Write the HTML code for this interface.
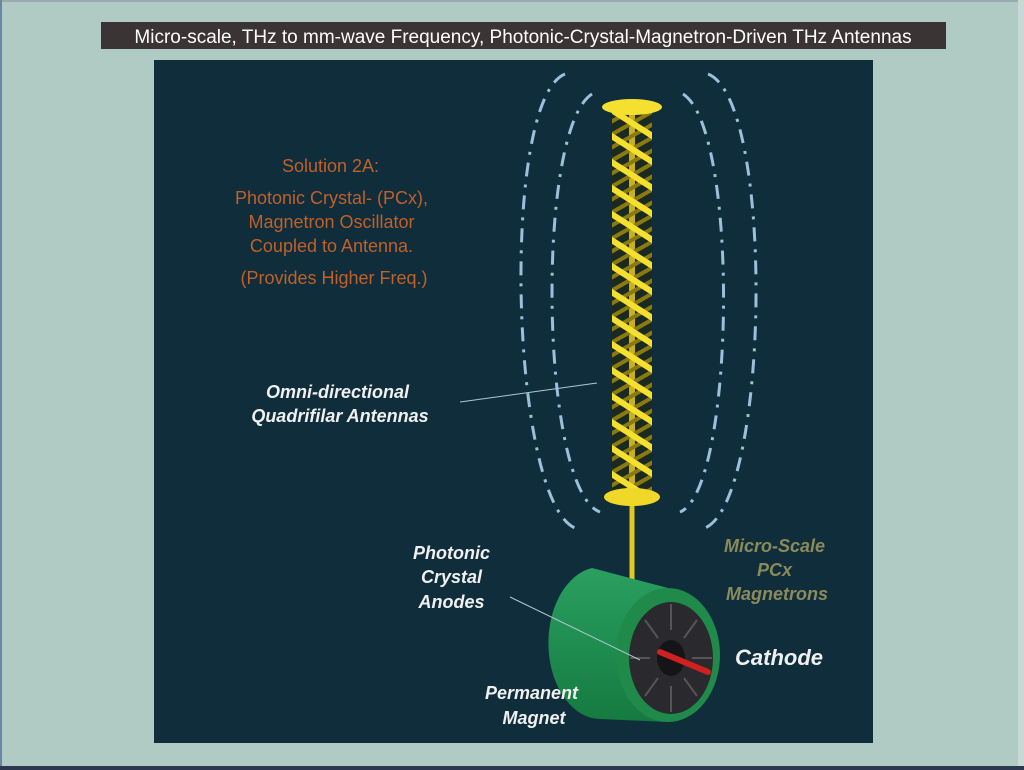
<!DOCTYPE html>
<html><head><meta charset="utf-8"><style>
html,body{margin:0;padding:0;width:1024px;height:770px;overflow:hidden;background:#b0cac4}
svg{display:block}
</style></head><body>
<svg width="1024" height="770" viewBox="0 0 1024 770" xmlns="http://www.w3.org/2000/svg">
<defs>
<pattern id="hel" patternUnits="userSpaceOnUse" width="40" height="26" patternTransform="translate(612,110)">
<line x1="-10" y1="30" x2="50" y2="-4" stroke="#8a7a10" stroke-width="4"/>
<line x1="-10" y1="17" x2="50" y2="-17" stroke="#8a7a10" stroke-width="4"/>
<line x1="-10" y1="43" x2="50" y2="9" stroke="#8a7a10" stroke-width="4"/>
</pattern>
<pattern id="hel2" patternUnits="userSpaceOnUse" width="40" height="26" patternTransform="translate(612,110)">
<line x1="-10" y1="-6" x2="50" y2="32" stroke="#f5e030" stroke-width="6"/>
<line x1="-10" y1="20" x2="50" y2="58" stroke="#f5e030" stroke-width="6"/>
<line x1="-10" y1="-32" x2="50" y2="6" stroke="#f5e030" stroke-width="6"/>
</pattern>
<linearGradient id="gb" x1="0" y1="0" x2="0" y2="1"><stop offset="0" stop-color="#2aa060"/><stop offset="1" stop-color="#157a40"/></linearGradient>
</defs>
<rect x="0" y="0" width="1024" height="2" fill="#9aaab0"/>
<rect x="0" y="0" width="2" height="770" fill="#6b85a8"/>
<rect x="0" y="766" width="1024" height="4" fill="#2c3850"/>
<rect x="1018" y="0" width="6" height="766" fill="#c8d8d4"/>
<rect x="101" y="22" width="845" height="27" fill="#3a3434"/>
<text x="523" y="43" text-anchor="middle" font-family="Liberation Sans, sans-serif" font-size="19" fill="#ffffff">Micro-scale, THz to mm-wave Frequency, Photonic-Crystal-Magnetron-Driven THz Antennas</text>
<rect x="154" y="60" width="719" height="683" fill="#0f2d3a"/>
<g fill="none" stroke="#9cc0dc" stroke-width="3" stroke-dasharray="14,8,3,8">
<path d="M565,74 C500,100 510,500 575,528"/>
<path d="M592,94 C535,130 540,490 600,512"/>
<path d="M708,74 C775,100 770,500 705,528"/>
<path d="M683,94 C740,130 735,490 680,512"/>
</g>
<line x1="632" y1="500" x2="632" y2="583" stroke="#e0c820" stroke-width="5"/>
<rect x="612" y="112" width="40" height="385" fill="#1a2a20"/>
<rect x="629" y="112" width="6" height="385" fill="#c8b020"/>
<rect x="612" y="112" width="40" height="385" fill="url(#hel)"/>
<rect x="612" y="112" width="40" height="385" fill="url(#hel2)"/>
<ellipse cx="632" cy="107" rx="30" ry="8" fill="#f5e030"/>
<ellipse cx="632" cy="497" rx="28" ry="9" fill="#f0d828"/>
<text font-family="Liberation Sans, sans-serif" font-size="18" fill="#c0602a" text-anchor="middle">
<tspan x="333" y="172">Solution 2A:</tspan>
<tspan x="334" y="204">Photonic Crystal- (PCx),</tspan>
<tspan x="334" y="228">Magnetron Oscillator</tspan>
<tspan x="334" y="252">Coupled to Antenna.</tspan>
<tspan x="334" y="284">(Provides Higher Freq.)</tspan>
</text>
<text font-family="Liberation Sans, sans-serif" font-size="18" font-weight="bold" font-style="italic" fill="#f0f0f0" text-anchor="middle">
<tspan x="340" y="398">Omni-directional</tspan>
<tspan x="340" y="422">Quadrifilar Antennas</tspan>
</text>
<line x1="460" y1="402" x2="597" y2="383" stroke="#b0c8d8" stroke-width="1"/>
<path d="M592,568 L668,588 L668,722 L600,719 A52,76 0 0 1 592,568 Z" fill="url(#gb)"/>
<ellipse cx="668" cy="655" rx="52" ry="67" fill="#1f8a4a"/>
<ellipse cx="671" cy="658" rx="42" ry="56" fill="#2a2a2e"/>
<g stroke="#555" stroke-width="2">
<line x1="671" y1="604" x2="671" y2="630"/><line x1="671" y1="686" x2="671" y2="712"/>
<line x1="630" y1="658" x2="650" y2="658"/><line x1="692" y1="658" x2="712" y2="658"/>
<line x1="645" y1="620" x2="658" y2="638"/><line x1="697" y1="620" x2="684" y2="638"/>
<line x1="645" y1="696" x2="658" y2="678"/><line x1="697" y1="696" x2="684" y2="678"/>
</g>
<ellipse cx="671" cy="658" rx="14" ry="18" fill="#151518"/>
<line x1="660" y1="652" x2="708" y2="672" stroke="#d02020" stroke-width="6" stroke-linecap="round"/>
<text font-family="Liberation Sans, sans-serif" font-size="18" font-weight="bold" font-style="italic" fill="#f0f0f0" text-anchor="middle">
<tspan x="454" y="559">Photonic</tspan>
<tspan x="454" y="583">Crystal</tspan>
<tspan x="454" y="608">Anodes</tspan>
<tspan x="534" y="699">Permanent</tspan>
<tspan x="534" y="724">Magnet</tspan>
</text>
<line x1="510" y1="597" x2="640" y2="660" stroke="#b0c8d8" stroke-width="1"/>
<text x="779" y="665" text-anchor="middle" font-family="Liberation Sans, sans-serif" font-size="22" font-weight="bold" font-style="italic" fill="#f0f0f0">Cathode</text>
<text font-family="Liberation Sans, sans-serif" font-size="18" font-weight="bold" font-style="italic" fill="#8a8a5c" text-anchor="middle">
<tspan x="777" y="552">Micro-Scale</tspan>
<tspan x="777" y="576">PCx</tspan>
<tspan x="777" y="600">Magnetrons</tspan>
</text>
</svg>
</body></html>
